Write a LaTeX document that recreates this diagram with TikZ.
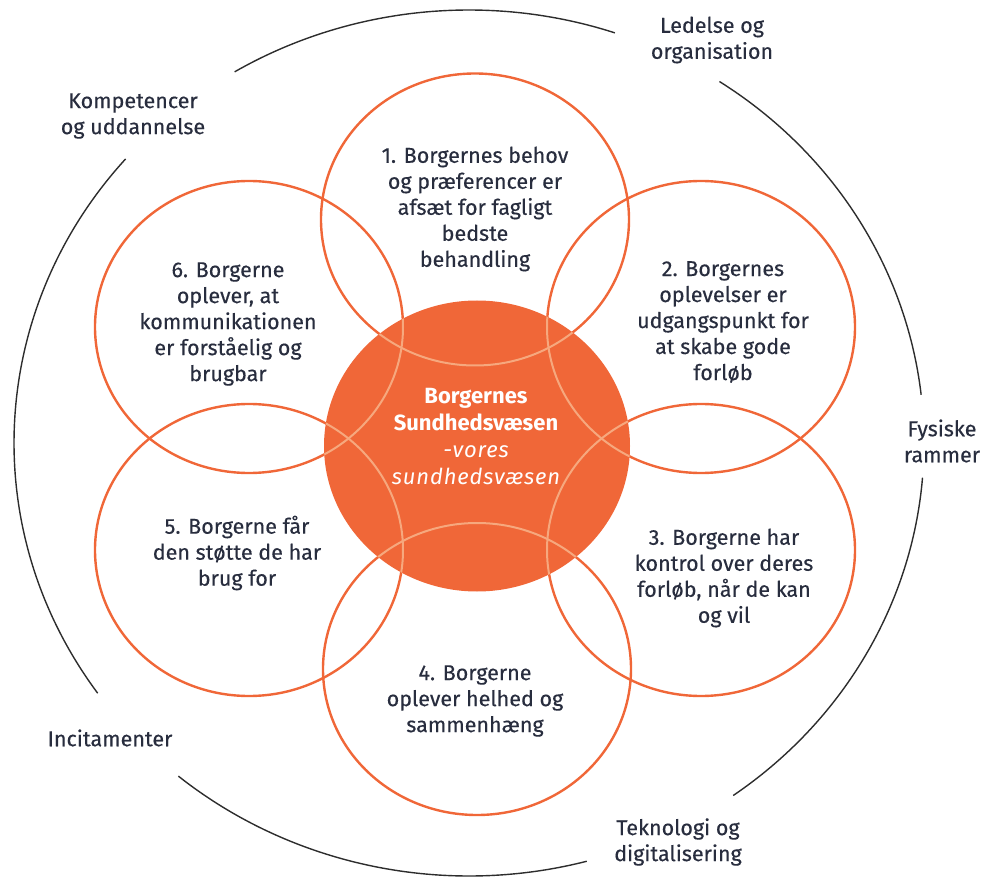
\documentclass[tikz,border=0pt]{standalone}
\usepackage{fontspec}
\setmainfont{Fira Sans}
\newfontfamily\labfont{Fira Sans}[FakeBold=0.35]
\usetikzlibrary{shapes.geometric}
\definecolor{oran}{RGB}{240,103,56}
\definecolor{oranlight}{RGB}{246,168,126}
\definecolor{txtc}{RGB}{40,45,62}
\definecolor{ringc}{RGB}{45,45,45}
\begin{document}
\begin{tikzpicture}[x=1pt,y=-1pt,
  petal/.style={ellipse, draw=oran, line width=2.4pt, minimum width=308pt, minimum height=292pt, inner sep=0pt},
  petaltxt/.style={align=center, text=txtc, font=\labfont\fontsize{21.5}{26}\selectfont, inner sep=0pt},
  outertxt/.style={align=center, text=txtc, font=\labfont\fontsize{21.5}{26}\selectfont, inner sep=0pt},
  ringline/.style={draw=ringc, line width=1.4pt},
  coretxt/.style={align=center, text=white, font=\fontsize{22}{27}\selectfont, inner sep=0pt}
]
\useasboundingbox (0,0) rectangle (989,877);
% outer ring
\coordinate (oc) at (469,443);
\draw[ringline] (oc) ++(71.3:455pt and 433pt) arc[start angle=71.3, end angle=121, x radius=455pt, y radius=433pt];
\draw[ringline] (oc) ++(139:455pt and 433pt) arc[start angle=139, end angle=215.3, x radius=455pt, y radius=433pt];
\draw[ringline] (oc) ++(230.3:455pt and 433pt) arc[start angle=230.3, end angle=285, x radius=455pt, y radius=433pt];
\draw[ringline] (oc) ++(-54.5:455pt and 433pt) arc[start angle=-54.5, end angle=-4.6, x radius=455pt, y radius=433pt];
\draw[ringline] (oc) ++(6.4:455pt and 433pt) arc[start angle=6.4, end angle=56.6, x radius=455pt, y radius=433pt];
% petals
\node[petal] (p1) at (475,219.5) {};
\node[petal] (p2) at (701,327) {};
\node[petal] (p3) at (701,550) {};
\node[petal] (p4) at (477,669) {};
\node[petal] (p5) at (249,550) {};
\node[petal] (p6) at (249,327) {};
% core
\node[ellipse, fill=oran, minimum width=306pt, minimum height=291pt, inner sep=0pt] (core) at (477,446) {};
\begin{scope}
  \clip (477,446) ellipse [x radius=153pt, y radius=145.5pt];
  \foreach \p in {p1,p2,p3,p4,p5,p6}{
    \draw[oranlight, line width=2pt] (\p) ellipse [x radius=154pt, y radius=146pt];
  }
\end{scope}
% texts
\node[coretxt] (ct) at (476,437) {\textbf{Borgernes}\\\textbf{Sundhedsvæsen}\\{\itshape\addfontfeature{LetterSpace=4}-vores}\\{\itshape\addfontfeature{LetterSpace=4}sundhedsvæsen}};
\node[petaltxt] (t1) at (475,209) {1. Borgernes behov\\og præferencer er\\afsæt for fagligt\\bedste\\behandling};
\node[petaltxt] (t2) at (723,322) {2. Borgernes\\oplevelser er\\udgangspunkt for\\at skabe gode\\forløb};
\node[petaltxt] (t3) at (724,578) {3. Borgerne har\\kontrol over deres\\forløb, når de kan\\og vil};
\node[petaltxt] (t4) at (475,701) {4. Borgerne\\oplever helhed og\\sammenhæng};
\node[petaltxt] (t5) at (237,553) {5. Borgerne får\\den støtte de har\\brug for};
\node[petaltxt] (t6) at (228,324) {6. Borgerne\\oplever, at\\kommunikationen\\er forståelig og\\brugbar};
% outer labels
\node[outertxt] (l1) at (712,40) {Ledelse og\\organisation};
\node[outertxt] (l2) at (133,116) {Kompetencer\\og uddannelse};
\node[outertxt] (l3) at (942,441) {Fysiske\\rammer};
\node[outertxt] (l4) at (110,738) {Incitamenter};
\node[outertxt] (l5) at (678,842) {Teknologi og\\digitalisering};
\end{tikzpicture}
\end{document}
